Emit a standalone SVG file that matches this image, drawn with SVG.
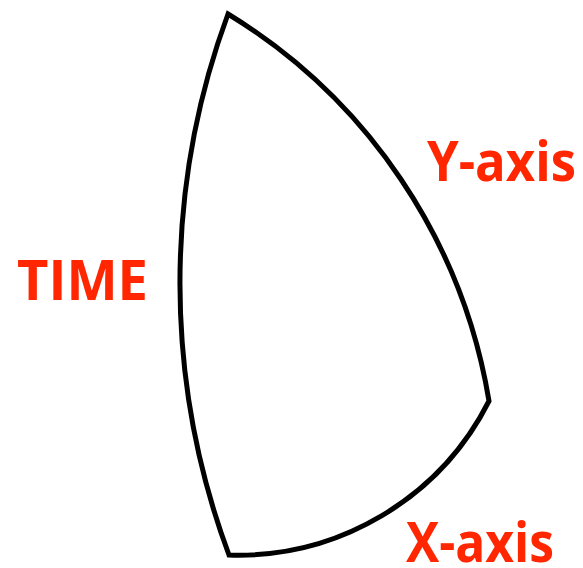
<svg xmlns="http://www.w3.org/2000/svg" width="583" height="568" viewBox="0 0 583 568">
  <style>
    .lbl { font-family: "Open Sans", "Liberation Sans", sans-serif; font-weight: bold; font-size: 55px; fill: #FF2600; }
    .edge { fill: none; stroke: #000000; stroke-width: 5; stroke-linejoin: miter; }
  </style>
  <rect width="583" height="568" fill="#FFFFFF"/>
  <g id="shape">
    <path class="edge" d="M228,14 A560,560 0 0 1 489,401 A281,281 0 0 1 229,555 A778,778 0 0 1 228,14 Z"/>
  </g>
  <g id="label-y">
    <text class="lbl" x="427" y="181" textLength="149" lengthAdjust="spacingAndGlyphs">Y-axis</text>
  </g>
  <g id="label-time">
    <text class="lbl" x="17" y="300" textLength="131" lengthAdjust="spacingAndGlyphs">TIME</text>
  </g>
  <g id="label-x">
    <text class="lbl" x="406" y="562" textLength="148" lengthAdjust="spacingAndGlyphs">X-axis</text>
  </g>
</svg>
